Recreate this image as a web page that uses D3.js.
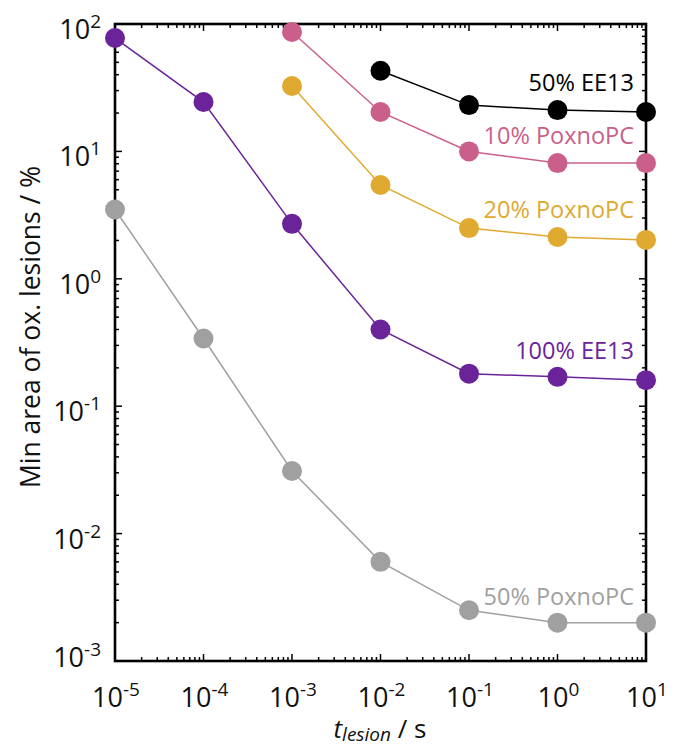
<!DOCTYPE html>
<html><head><meta charset="utf-8">
<script src="https://cdn.jsdelivr.net/npm/d3@7"></script>
<style>body{margin:0;background:#fff;} text{font-family:"Open Sans","Noto Sans",sans-serif;}</style>
</head><body>
<svg id="chart" width="678" height="748"></svg>
<script>
const xTimes = [1e-5, 1e-4, 1e-3, 1e-2, 1e-1, 1e0, 1e1];
const seriesNames = ["50% EE13", "10% PoxnoPC", "20% PoxnoPC", "100% EE13", "50% PoxnoPC"];
const seriesColors = ["#000000", "#c95f8a", "#e0a930", "#6a2398", "#a0a0a0"];
const ee13_50 = [null, null, null, 43, 23.1, 21.1, 20.4];
const poxno_10 = [null, null, 86.5, 20.4, 10, 8.1, 8.1];
const poxno_20 = [null, null, 32.6, 5.45, 2.5, 2.13, 2.02];
const ee13_100 = [77.6, 24.4, 2.7, 0.40, 0.18, 0.17, 0.16];
const poxno_50 = [3.5, 0.34, 0.031, 0.006, 0.0025, 0.002, 0.002];
const seriesValues = [ee13_50, poxno_10, poxno_20, ee13_100, poxno_50];
const xTickExps = [-5, -4, -3, -2, -1, 0, 1];
const yTickExps = [-3, -2, -1, 0, 1, 2];

const svg = d3.select("#chart");
const L = 115, R = 646, T = 24, B = 661;
const x = d3.scaleLog().domain([1e-5, 1e1]).range([L, R]);
const y = d3.scaleLog().domain([1e-3, 1e2]).range([B, T]);

// ticks (inward, all four sides)
const g = svg.append("g");
const minorX = [], minorY = [];
for (let e = -5; e < 1; e++) for (let k = 2; k <= 9; k++) minorX.push(k * Math.pow(10, e));
for (let e = -3; e < 2; e++) for (let k = 2; k <= 9; k++) minorY.push(k * Math.pow(10, e));
const majorX = xTickExps.map(e => Math.pow(10, e));
const majorY = yTickExps.map(e => Math.pow(10, e));
const tk = (x1,y1,x2,y2)=>g.append("line").attr("x1",x1).attr("y1",y1).attr("x2",x2).attr("y2",y2).attr("stroke","#000").attr("stroke-width",1.5);
minorX.forEach(v => { tk(x(v), B, x(v), B-4); tk(x(v), T, x(v), T+4); });
majorX.forEach(v => { tk(x(v), B, x(v), B-7); tk(x(v), T, x(v), T+7); });
minorY.forEach(v => { tk(L, y(v), L+4, y(v)); tk(R, y(v), R-4, y(v)); });
majorY.forEach(v => { tk(L, y(v), L+7, y(v)); tk(R, y(v), R-7, y(v)); });

svg.append("rect").attr("x", L).attr("y", T).attr("width", R-L).attr("height", B-T)
  .attr("fill", "none").attr("stroke", "#000").attr("stroke-width", 2.6);

// tick labels
xTickExps.forEach(e => {
  const t = svg.append("text").attr("x", x(Math.pow(10,e)) + 1).attr("y", 707).attr("text-anchor","middle")
    .attr("font-size", 27).attr("fill","#111");
  t.append("tspan").text("10");
  t.append("tspan").attr("dy", -11).attr("font-size", 19).text(e);
});
yTickExps.forEach(e => {
  const off = e === -3 ? 6 : 15;
  const t = svg.append("text").attr("x", 101).attr("y", y(Math.pow(10,e)) + off).attr("text-anchor","end")
    .attr("font-size", 27).attr("fill","#111");
  t.append("tspan").text("10");
  t.append("tspan").attr("dy", -11).attr("font-size", 19).text(e);
});

// axis titles
svg.append("text").attr("transform", "translate(40,327) rotate(-90)").attr("text-anchor","middle")
  .attr("font-size", 26.5).attr("fill","#111").text("Min area of ox. lesions / %");
const xt = svg.append("text").attr("x", 380).attr("y", 738).attr("text-anchor","middle").attr("font-size", 26).attr("fill","#111");
xt.append("tspan").attr("font-style","italic").text("t");
xt.append("tspan").attr("font-style","italic").attr("font-size", 19).attr("dy", 3).text("lesion");
xt.append("tspan").attr("dy", -3).text(" / s");

// series
const line = d3.line().x(d => x(d[0])).y(d => y(d[1]));
const order = [4, 3, 2, 1, 0];
order.forEach(i => {
  const pts = xTimes.map((t, j) => [t, seriesValues[i][j]]).filter(d => d[1] != null);
  svg.append("path").datum(pts).attr("d", line).attr("fill","none").attr("stroke", seriesColors[i]).attr("stroke-width", 1.5);
  svg.selectAll(null).data(pts).enter().append("circle")
    .attr("cx", d => x(d[0])).attr("cy", d => y(d[1])).attr("r", 10).attr("fill", seriesColors[i]);
});

// labels
const labelY = [91, 144, 218, 359, 605];
seriesNames.forEach((n, i) => {
  svg.append("text").attr("x", 634).attr("y", labelY[i]).attr("text-anchor","end")
    .attr("font-size", 23.5).attr("fill", seriesColors[i]).text(n);
});
</script>
</body></html>
